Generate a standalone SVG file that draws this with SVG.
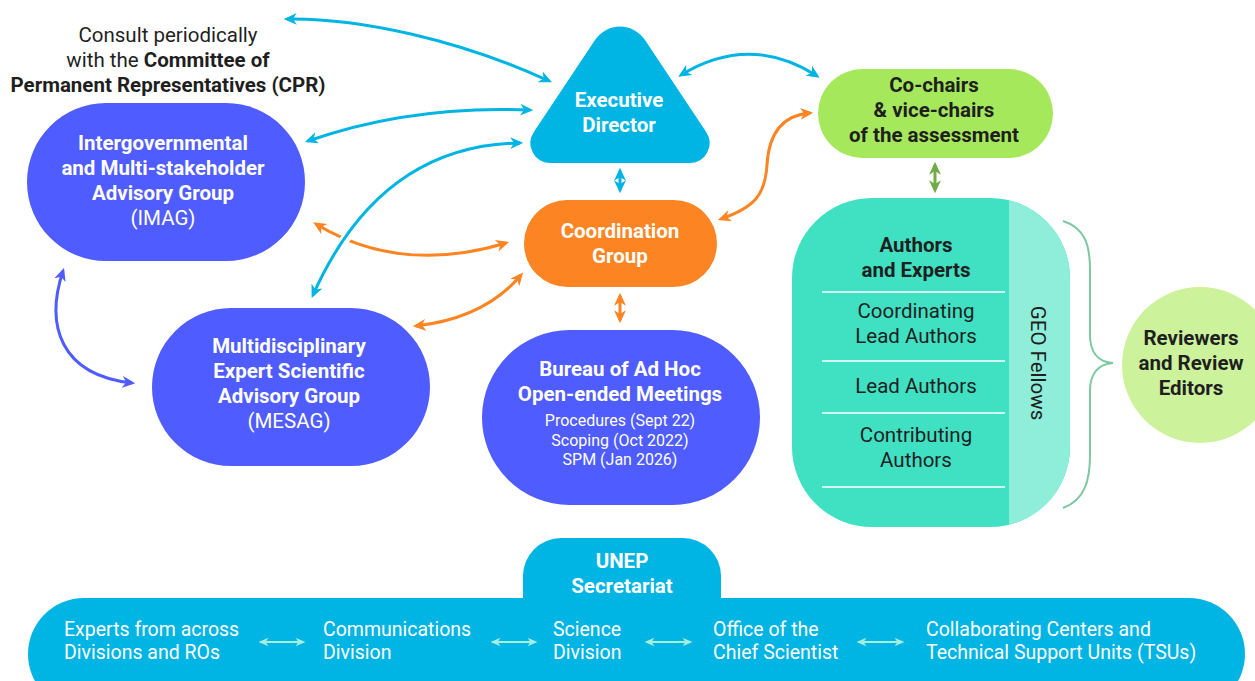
<svg xmlns="http://www.w3.org/2000/svg" width="1255" height="681" viewBox="0 0 1255 681">
<style>
text{font-family:Roboto,"Liberation Sans",sans-serif;}
.w{fill:#ffffff;font-size:20.5px;text-anchor:middle;}
.d{fill:#1f1f1f;font-size:20.5px;text-anchor:middle;}
.b{font-weight:bold;}
.s{font-size:16px;}
.bt{fill:#ffffff;font-size:19.5px;}
.cy{fill:none;stroke:#00B4E3;stroke-width:3;marker-start:url(#mc);marker-end:url(#mc);}
.or{fill:none;stroke:#FC8422;stroke-width:3;marker-start:url(#mo);marker-end:url(#mo);}
.bl{fill:none;stroke:#4F5CFF;stroke-width:3;marker-start:url(#mb);marker-end:url(#mb);}
.gr{fill:none;stroke:#72AA45;stroke-width:3;marker-start:url(#mg);marker-end:url(#mg);}
.lt{fill:none;stroke:#A6EEDC;stroke-width:2;marker-start:url(#ml);marker-end:url(#ml);}
.halo{fill:none;stroke:#ffffff;stroke-width:10;}
.purple{fill:#4F5CFF;}
</style>
<defs>
<marker id="mc" viewBox="0 0 12 12" markerUnits="userSpaceOnUse" markerWidth="13" markerHeight="13" refX="9" refY="6" orient="auto-start-reverse"><path d="M0,0.5 L12,6 L0,11.5 L3.5,6 Z" fill="#00B4E3"/></marker>
<marker id="mo" viewBox="0 0 12 12" markerUnits="userSpaceOnUse" markerWidth="13" markerHeight="13" refX="9" refY="6" orient="auto-start-reverse"><path d="M0,0.5 L12,6 L0,11.5 L3.5,6 Z" fill="#FC8422"/></marker>
<marker id="mb" viewBox="0 0 12 12" markerUnits="userSpaceOnUse" markerWidth="13" markerHeight="13" refX="9" refY="6" orient="auto-start-reverse"><path d="M0,0.5 L12,6 L0,11.5 L3.5,6 Z" fill="#4F5CFF"/></marker>
<marker id="mg" viewBox="0 0 12 12" markerUnits="userSpaceOnUse" markerWidth="13" markerHeight="13" refX="9" refY="6" orient="auto-start-reverse"><path d="M0,0.5 L12,6 L0,11.5 L3.5,6 Z" fill="#72AA45"/></marker>
<marker id="ml" viewBox="0 0 12 12" markerUnits="userSpaceOnUse" markerWidth="10" markerHeight="10" refX="9" refY="6" orient="auto-start-reverse"><path d="M0,1 L12,6 L0,11 L3.5,6 Z" fill="#A6EEDC"/></marker>
<clipPath id="authClip"><rect x="792" y="198" width="278" height="329" rx="80" ry="80"/></clipPath>
</defs>

<g id="cpr-note">
<text class="d" x="168" y="42">Consult periodically</text>
<text class="d" x="168" y="67">with the <tspan class="b">Committee of</tspan></text>
<text class="d b" x="168" y="92">Permanent Representatives (CPR)</text>
</g>

<g id="connectors">
<path class="cy" d="M287,19 C360,18 460,40 549,81"/>
<path class="cy" d="M308,141 Q410,105 530,110"/>
<path class="cy" d="M681,75 Q750,33 817,76"/>
<path class="or" d="M316,224 Q400,275 506,243"/>
<path class="halo" d="M322,275 Q336,250 352,230"/>
<path class="cy" d="M313,295 Q380,145 520,143"/>
<path class="or" d="M416,326 Q485,318 521,275"/>
<path class="or" d="M721,219 C755,207 765,195 767,165 C769,130 785,115 810,113"/>
<path class="bl" d="M63,271 C45,325 60,375 132,383"/>
<path class="cy" d="M620,171 L620,190"/>
<path class="or" d="M620,296 L620,320"/>
<path class="gr" d="M935,165 L935,190"/>
<path d="M1063,221 C1085,228 1090,245 1090,270 L1090,335 C1090,352 1098,362 1113,363 C1098,364 1090,374 1090,391 L1090,455 C1090,480 1085,500 1063,508" fill="none" stroke="#7CC8A0" stroke-width="2"/>
</g>

<g id="imag">
<rect class="purple" x="27" y="103" width="278" height="158" rx="79" ry="79"/>
<text class="w b" x="163" y="150">Intergovernmental</text>
<text class="w b" x="163" y="175">and Multi-stakeholder</text>
<text class="w b" x="163" y="200">Advisory Group</text>
<text class="w" x="163" y="225">(IMAG)</text>
</g>

<g id="mesag">
<rect class="purple" x="152" y="308" width="278" height="158" rx="79" ry="79"/>
<text class="w b" x="289" y="353">Multidisciplinary</text>
<text class="w b" x="289" y="378">Expert Scientific</text>
<text class="w b" x="289" y="403">Advisory Group</text>
<text class="w" x="289" y="428">(MESAG)</text>
</g>

<g id="executive-director">
<path d="M595,40 A30,30 0 0 1 645,40 L706.2,131.9 A20,20 0 0 1 689.6,163 L550.4,163 A20,20 0 0 1 533.8,131.9 Z" fill="#00B4E3"/>
<text class="w b" x="619" y="107">Executive</text>
<text class="w b" x="619" y="132">Director</text>
</g>

<g id="coordination-group">
<rect x="524" y="200" width="193" height="87" rx="43.5" ry="43.5" fill="#FC8422"/>
<text class="w b" x="620" y="238">Coordination</text>
<text class="w b" x="620" y="263">Group</text>
</g>

<g id="bureau">
<rect class="purple" x="482" y="330" width="278" height="175" rx="87.5" ry="87.5"/>
<text class="w b" x="620" y="376">Bureau of Ad Hoc</text>
<text class="w b" x="620" y="401">Open-ended Meetings</text>
<text class="w s" x="620" y="426">Procedures (Sept 22)</text>
<text class="w s" x="620" y="446">Scoping (Oct 2022)</text>
<text class="w s" x="620" y="465">SPM (Jan 2026)</text>
</g>

<g id="co-chairs">
<rect x="818" y="69" width="235" height="89" rx="44.5" ry="44.5" fill="#A6E85C"/>
<text class="d b" x="934" y="92">Co-chairs</text>
<text class="d b" x="934" y="117">&amp; vice-chairs</text>
<text class="d b" x="934" y="142">of the assessment</text>
</g>

<g id="authors">
<g clip-path="url(#authClip)">
<rect x="792" y="198" width="278" height="329" fill="#40E0C2"/>
<rect x="1009" y="198" width="61" height="329" fill="#8EEEDA"/>
</g>
<g stroke="#ffffff" stroke-width="1.5">
<line x1="822" y1="292" x2="1005" y2="292"/>
<line x1="822" y1="361" x2="1005" y2="361"/>
<line x1="822" y1="413" x2="1005" y2="413"/>
<line x1="822" y1="487" x2="1005" y2="487"/>
</g>
<text class="d b" x="916" y="252">Authors</text>
<text class="d b" x="916" y="277">and Experts</text>
<text class="d" x="916" y="318">Coordinating</text>
<text class="d" x="916" y="343">Lead Authors</text>
<text class="d" x="916" y="393">Lead Authors</text>
<text class="d" x="916" y="442">Contributing</text>
<text class="d" x="916" y="467">Authors</text>
<text class="d" transform="translate(1031,363) rotate(90)" x="0" y="0">GEO Fellows</text>
</g>

<g id="reviewers">
<circle cx="1200" cy="365" r="78" fill="#CCF29C"/>
<text class="d b" x="1191" y="345">Reviewers</text>
<text class="d b" x="1191" y="370">and Review</text>
<text class="d b" x="1191" y="395">Editors</text>
</g>

<g id="unep-secretariat">
<rect x="523" y="538" width="198" height="110" rx="38" ry="38" fill="#00B4E3"/>
<rect x="28" y="598" width="1217" height="112" rx="56" ry="56" fill="#00B4E3"/>
<text class="w b" x="622" y="568">UNEP</text>
<text class="w b" x="622" y="593">Secretariat</text>
<text class="bt" x="64" y="636">Experts from across</text>
<text class="bt" x="64" y="659">Divisions and ROs</text>
<text class="bt" x="323" y="636">Communications</text>
<text class="bt" x="323" y="659">Division</text>
<text class="bt" x="553" y="636">Science</text>
<text class="bt" x="553" y="659">Division</text>
<text class="bt" x="713" y="636">Office of the</text>
<text class="bt" x="713" y="659">Chief Scientist</text>
<text class="bt" x="926" y="636">Collaborating Centers and</text>
<text class="bt" x="926" y="659">Technical Support Units (TSUs)</text>
<path class="lt" d="M261,642 L303,642"/>
<path class="lt" d="M493,642 L535,642"/>
<path class="lt" d="M647,642 L690,642"/>
<path class="lt" d="M859,642 L902,642"/>
</g>
</svg>
